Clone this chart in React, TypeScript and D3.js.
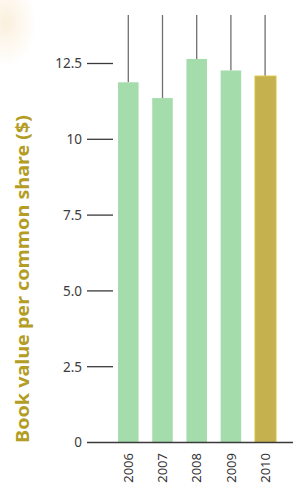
import * as d3 from "d3";

const years = ["2006", "2007", "2008", "2009", "2010"];
const bookValue = [11.88, 11.36, 12.65, 12.27, 12.09];
const yTicks = [0, 2.5, 5.0, 7.5, 10, 12.5];
const yTickLabels = ["0", "2.5", "5.0", "7.5", "10", "12.5"];

const W = 293;
const H = 485;

export default function App() {
  const x = d3
    .scaleBand<string>()
    .domain(years)
    .range([111.2, 282.2])
    .paddingInner(0.4)
    .paddingOuter(0.2);

  const y = d3.scaleLinear().domain([0, 12.5]).range([442.5, 63.5]);

  const font = "'Noto Sans', 'Open Sans', sans-serif";

  return (
    <div style={{ position: "absolute", left: 0, top: 0, width: W, height: H, background: "#fff" }}>
      <svg width={W} height={H} viewBox={`0 0 ${W} ${H}`}>
        <defs>
          <radialGradient id="blotch" cx="0.5" cy="0.5" r="0.5">
            <stop offset="0%" stopColor="#fbeed9" stopOpacity={0.9} />
            <stop offset="100%" stopColor="#fbeed9" stopOpacity={0} />
          </radialGradient>
        </defs>
        <ellipse cx={6} cy={22} rx={30} ry={45} fill="url(#blotch)" />

        {/* leader lines above bars */}
        {years.map((yr, i) => (
          <line
            key={"l" + yr}
            x1={x(yr)! + x.bandwidth() / 2}
            x2={x(yr)! + x.bandwidth() / 2}
            y1={15}
            y2={y(bookValue[i])}
            stroke="#707070"
            strokeWidth={1.3}
          />
        ))}

        {/* bars */}
        {years.map((yr, i) => {
          const last = i === years.length - 1;
          return (
            <rect
              key={"b" + yr}
              x={x(yr)!}
              y={y(bookValue[i])}
              width={x.bandwidth() + (last ? 0.8 : 0)}
              height={y(0) - y(bookValue[i])}
              fill={last ? "#c6b14f" : "#a4dcac"}
              stroke={last ? "#e3d25a" : "none"}
              strokeWidth={last ? 0.8 : 0}
            />
          );
        })}

        {/* y ticks */}
        {yTicks.map((t, i) => (
          <g key={"t" + t}>
            {i > 0 && (
              <line x1={87} x2={113} y1={y(t)} y2={y(t)} stroke="#3a3a3a" strokeWidth={1.3} />
            )}
            <text
              x={82}
              y={y(t)}
              dy="0.36em"
              textAnchor="end"
              fontFamily={font}
              fontSize={13.5}
              fill="#3c3c3c"
            >
              {yTickLabels[i]}
            </text>
          </g>
        ))}

        {/* baseline */}
        <line x1={87} x2={W} y1={y(0)} y2={y(0)} stroke="#3a3a3a" strokeWidth={1.4} />

        {/* year labels */}
        {years.map((yr) => {
          const cx = x(yr)! + x.bandwidth() / 2;
          return (
            <text
              key={"y" + yr}
              transform={`translate(${cx},453) rotate(-90)`}
              dy="0.36em"
              textAnchor="end"
              fontFamily={font}
              fontSize={13}
              fill="#333"
            >
              {yr}
            </text>
          );
        })}

        {/* axis title */}
        <text
          transform="translate(23,443) rotate(-90)"
          dy="0.36em"
          textAnchor="start"
          fontFamily={font}
          fontSize={17}
          fontWeight="bold"
          fill="#b39d24"
          textLength={328}
          lengthAdjust="spacingAndGlyphs"
        >
          Book value per common share ($)
        </text>
      </svg>
    </div>
  );
}
